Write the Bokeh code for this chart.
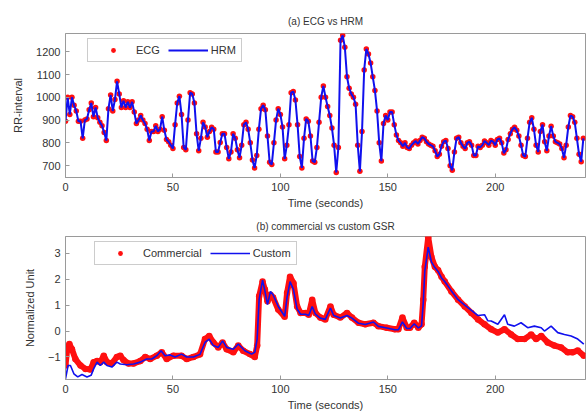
from bokeh.plotting import figure
from bokeh.layouts import column
from bokeh.models import FixedTicker, Legend, LegendItem, ColumnDataSource
from bokeh.embed import file_html
from bokeh.resources import INLINE

# ---------------- data: (a) ECG vs HRM ----------------
ecg_time = [0, 1, 2, 3, 4, 5, 6, 7, 8, 9, 10, 11, 12, 13, 14, 15, 16, 17, 18, 19,
            20, 21, 22, 23, 24, 25, 26, 27, 28, 29, 30, 31, 32, 33, 34, 35, 36, 37, 38, 39,
            40, 41, 42, 43, 44, 45, 46, 47, 48, 49, 50, 51, 52, 53, 54, 55, 56, 57, 58, 59,
            60, 61, 62, 63, 64, 65, 66, 67, 68, 69, 70, 71, 72, 73, 74, 75, 76, 77, 78, 79,
            80, 81, 82, 83, 84, 85, 86, 87, 88, 89, 90, 91, 92, 93, 94, 95, 96, 97, 98, 99,
            100, 101, 102, 103, 104, 105, 106, 107, 108, 109, 110, 111, 112, 113, 114, 115, 116, 117, 118, 119,
            120, 121, 122, 123, 124, 125, 126, 127, 128, 129, 130, 131, 132, 133, 134, 135, 136, 137, 138, 139,
            140, 141, 142, 143, 144, 145, 146, 147, 148, 149, 150, 151, 152, 153, 154, 155, 156, 157, 158, 159,
            160, 161, 162, 163, 164, 165, 166, 167, 168, 169, 170, 171, 172, 173, 174, 175, 176, 177, 178, 179,
            180, 181, 182, 183, 184, 185, 186, 187, 188, 189, 190, 191, 192, 193, 194, 195, 196, 197, 198, 199,
            200, 201, 202, 203, 204, 205, 206, 207, 208, 209, 210, 211, 212, 213, 214, 215, 216, 217, 218, 219,
            220, 221, 222, 223, 224, 225, 226, 227, 228, 229, 230, 231, 232, 233, 234, 235, 236, 237, 238, 239,
            240, 241]
ecg_rr = [895, 1000, 925, 1000, 965, 940, 895, 895, 820, 900, 905, 945, 975, 915, 955, 910, 890, 875, 845, 810,
          950, 1010, 940, 990, 1070, 1015, 955, 985, 955, 980, 955, 980, 935, 885, 900, 920, 900, 885, 860, 810,
          850, 850, 875, 850, 860, 915, 855, 815, 805, 790, 775, 880, 975, 1005, 925, 780, 770, 900, 1020, 1015,
          975, 840, 765, 820, 890, 870, 825, 850, 868, 860, 760, 760, 802, 840, 840, 780, 730, 760, 840, 820,
          770, 735, 790, 880, 890, 860, 800, 725, 690, 745, 860, 950, 965, 945, 830, 715, 705, 800, 900, 950,
          925, 870, 730, 790, 880, 1020, 1025, 988, 880, 740, 690, 820, 905, 895, 830, 720, 715, 780, 890, 1000,
          1050, 1000, 960, 920, 865, 790, 670, 780, 1250, 1272, 1220, 1090, 1040, 1015, 1000, 970, 790, 675, 850, 1120,
          1212, 1190, 1150, 1090, 1030, 940, 800, 720, 885, 920, 900, 935, 935, 880, 835, 810, 800, 785, 800, 780,
          775, 790, 800, 808, 795, 810, 825, 820, 805, 795, 790, 785, 765, 740, 750, 785, 805, 810, 775, 700,
          680, 760, 820, 825, 800, 785, 775, 800, 805, 790, 745, 745, 785, 780, 790, 808, 800, 790, 810, 805,
          790, 815, 820, 800, 755, 770, 815, 840, 860, 868, 855, 830, 790, 745, 740, 820, 890, 910, 860, 790,
          760, 850, 880, 805, 765, 830, 873, 830, 805, 800, 795, 775, 735, 790, 870, 920, 915, 890, 820, 750,
          717, 820]
hrm_rr = list(ecg_rr)

# ---------------- data: (b) commercial vs custom GSR ----------------
commercial_time = [0, 0.8, 1.8, 3.0, 4.6, 7.0, 9.3, 11.6, 13.1, 14.7, 16.2, 17.8, 19.3, 21.6, 23.9,
                   25.5, 27.0, 29.3, 31.7, 34.8, 37.1, 39.4, 42.5, 44.8, 47.1, 50.2, 54.0, 56.4,
                   59.5, 62.6, 64.9, 66.9, 68.8, 71.1, 73.1, 75.0, 78.1, 80.4, 82.7, 85.8, 88.1,
                   89.2, 90.1, 91.7, 92.8, 94.0, 95.4, 96.6, 99.0, 102.0, 103.1, 104.5, 106.1,
                   107.8, 109.4, 111.7, 113.2, 114.8, 116.3, 118.6, 120.9, 123.3, 124.8, 127.9,
                   131.0, 133.3, 136.4, 139.5, 143.3, 145.6, 149.5, 153.3, 154.9, 156.8, 158.8,
                   160.3, 162.3, 164.2, 165.7, 166.5, 167.2, 168.8, 170.3, 171.9, 173.4, 175.0,
                   176.5, 179.6, 182.7, 185.8, 188.9, 192.0, 195.0, 198.1, 201.2, 204.3, 207.4,
                   210.5, 213.6, 216.7, 219.0, 221.4, 224.4, 227.5, 230.6, 233.7, 236.0, 238.4, 241.2]
commercial = [-1.33, -0.70, -0.50, -0.70, -1.08, -1.33, -1.46, -1.48, -1.20, -1.16, -1.20, -0.95,
              -1.20, -1.25, -1.00, -0.95, -1.12, -1.25, -1.25, -1.16, -1.00, -1.08, -0.95, -0.82,
              -1.08, -0.95, -0.95, -1.08, -1.00, -0.90, -0.31, -0.19, -0.44, -0.63, -0.44, -0.70,
              -0.82, -0.56, -0.76, -0.89, -1.00, -0.56, 1.34, 1.91, 1.60, 1.15, 1.40, 1.30, 0.83,
              0.55, 1.47, 2.10, 1.85, 0.95, 0.70, 0.70, 0.63, 1.21, 0.70, 0.52, 0.45, 0.95, 0.63,
              0.52, 0.70, 0.52, 0.32, 0.26, 0.32, 0.19, 0.13, 0.07, 0.07, 0.52, 0.13, 0.13, 0.32,
              0.13, 0.26, 1.21, 2.48, 3.62, 2.86, 2.48, 2.35, 2.10, 1.91, 1.53, 1.21, 0.95, 0.70,
              0.45, 0.26, 0.07, -0.06, 0.07, -0.13, -0.31, -0.31, -0.13, -0.31, -0.19, -0.44,
              -0.56, -0.63, -0.82, -0.82, -0.75, -0.95]
custom_time = [0, 1.2, 2.3, 3.9, 5.7, 7.7, 10.0, 11.9, 13.1, 14.7, 16.2, 17.8, 19.3, 21.6, 23.9,
               25.5, 28.6, 31.7, 34.8, 37.8, 40.2, 42.5, 44.5, 46.3, 48.7, 51.0, 54.0, 56.4, 59.5,
               62.6, 64.9, 66.9, 68.8, 71.1, 73.1, 75.0, 78.1, 80.4, 83.5, 86.6, 88.1, 89.2, 90.1,
               91.7, 92.8, 94.0, 95.4, 96.6, 99.0, 102.0, 103.1, 104.5, 106.1, 107.8, 109.4,
               111.7, 113.2, 114.8, 116.3, 118.6, 120.9, 123.3, 124.8, 127.9, 131.0, 133.3, 136.4,
               139.5, 143.3, 145.6, 149.5, 153.3, 154.9, 156.8, 158.8, 160.3, 162.3, 164.2, 165.7,
               166.5, 167.2, 168.8, 170.3, 171.9, 173.4, 175.0, 176.5, 179.6, 182.7, 185.8, 188.9,
               192.0, 195.0, 196.5, 198.1, 201.2, 204.3, 205.8, 208.9, 212.0, 215.1, 218.2, 221.4,
               222.9, 226.0, 229.1, 232.2, 235.3, 238.4, 241.2]
custom = [-1.84, -1.33, -1.33, -1.65, -1.77, -1.68, -1.77, -1.71, -1.46, -1.20, -1.33, -1.20, -1.33,
          -1.39, -1.20, -1.27, -1.30, -1.27, -1.20, -1.08, -1.08, -0.95, -0.76, -0.95, -0.92, -1.00,
          -0.89, -1.00, -1.00, -0.90, -0.44, -0.31, -0.56, -0.63, -0.38, -0.63, -0.70, -0.50, -0.76,
          -0.89, -0.82, -0.30, 1.21, 1.97, 1.55, 1.02, 1.53, 1.40, 0.95, 0.57, 1.30, 1.91, 1.60,
          0.85, 0.65, 0.65, 0.60, 0.95, 0.65, 0.50, 0.45, 0.89, 0.60, 0.50, 0.60, 0.50, 0.30,
          0.25, 0.35, 0.18, 0.12, 0.05, 0.05, 0.35, 0.10, 0.10, 0.28, 0.12, 0.20, 1.10, 2.30,
          3.24, 2.67, 2.45, 2.30, 2.05, 1.91, 1.55, 1.21, 1.00, 0.80, 0.60, 0.63, 0.40, 0.39,
          0.26, 0.63, 0.26, 0.19, 0.32, 0.13, 0.19, 0.13, 0.00, 0.19, -0.06, -0.13, -0.19,
          -0.31, -0.50]

x_ticks = [0, 50, 100, 150, 200]
rr_ticks = [700, 800, 900, 1000, 1100, 1200]
gsr_ticks = [-1, 0, 1, 2, 3]

FONT = "Liberation Sans"
TEXT = "#333333"
FRAME = "#9a9a9a"
RED = "#ff1010"
BLUE = "#1010ee"


def style(p, xticks, yticks, title, ylabel, title_standoff):
    p.title.text = title
    p.title.align = "center"
    p.title.text_font = FONT
    p.title.text_font_size = "10px"
    p.title.text_font_style = "normal"
    p.title.text_color = TEXT
    p.title.standoff = title_standoff
    p.grid.visible = False
    p.outline_line_color = FRAME
    p.outline_line_width = 1
    for ax in (p.xaxis[0], p.yaxis[0]):
        ax.axis_line_color = FRAME
        ax.major_tick_line_color = FRAME
        ax.major_tick_in = 4
        ax.major_tick_out = 0
        ax.minor_tick_line_color = None
        ax.major_label_text_font = FONT
        ax.major_label_text_font_size = "11px"
        ax.major_label_text_color = TEXT
        ax.axis_label_text_font = FONT
        ax.axis_label_text_font_size = "11px"
        ax.axis_label_text_font_style = "normal"
        ax.axis_label_text_color = TEXT
    p.xaxis[0].ticker = FixedTicker(ticks=xticks)
    p.yaxis[0].ticker = FixedTicker(ticks=yticks)
    p.xaxis[0].axis_label = "Time (seconds)"
    p.xaxis[0].axis_label_standoff = 3
    p.xaxis[0].major_label_standoff = 5
    p.yaxis[0].axis_label = ylabel
    p.yaxis[0].axis_label_standoff = 9
    p.yaxis[0].major_label_standoff = 5


def make_legend(items, loc):
    return Legend(items=items, location=loc, orientation="horizontal",
                  glyph_width=40, glyph_height=12, label_height=12, label_standoff=3,
                  spacing=8, padding=5, margin=0,
                  border_line_color=FRAME, border_line_width=1,
                  background_fill_color="white", background_fill_alpha=1,
                  label_text_font=FONT, label_text_font_size="11px", label_text_color=TEXT)


# ---------------- panel (a) ----------------
p1 = figure(width=586, height=211, x_range=(0, 242), y_range=(648, 1280),
            output_backend="svg", toolbar_location=None,
            min_border_left=65, min_border_right=1, min_border_top=33, min_border_bottom=32)
style(p1, x_ticks, rr_ticks, "(a) ECG vs HRM", "RR-interval", 14)
src_a = ColumnDataSource(dict(t=ecg_time, ecg=ecg_rr, hrm=hrm_rr))
r_ecg = p1.scatter("t", "ecg", source=src_a, size=5.5, color=RED, line_color=None)
r_hrm = p1.line("t", "hrm", source=src_a, line_color=BLUE, line_width=2)
p1.add_layout(make_legend([LegendItem(label="ECG", renderers=[r_ecg]),
                           LegendItem(label="HRM", renderers=[r_hrm])], (22, 115)))

# ---------------- panel (b) ----------------
p2 = figure(width=586, height=202, x_range=(0, 242), y_range=(-1.87, 3.65),
            output_backend="svg", toolbar_location=None,
            min_border_left=65, min_border_right=1, min_border_top=25, min_border_bottom=32)
style(p2, x_ticks, gsr_ticks, "(b) commercial vs custom GSR", "Normalized Unit", 10)
src_c = ColumnDataSource(dict(t=commercial_time, v=commercial))
src_u = ColumnDataSource(dict(t=custom_time, v=custom))
p2.line("t", "v", source=src_c, line_color=RED, line_width=6)
r_com = p2.scatter("t", "v", source=src_c, size=6.5, color=RED, line_color=None)
r_cus = p2.line("t", "v", source=src_u, line_color=BLUE, line_width=1.6)
p2.add_layout(make_legend([LegendItem(label="Commercial", renderers=[r_com]),
                           LegendItem(label="Custom", renderers=[r_cus])], (29, 114)))

layout = column(p1, p2, spacing=0)
open("out.html", "w").write(file_html(layout, INLINE))
